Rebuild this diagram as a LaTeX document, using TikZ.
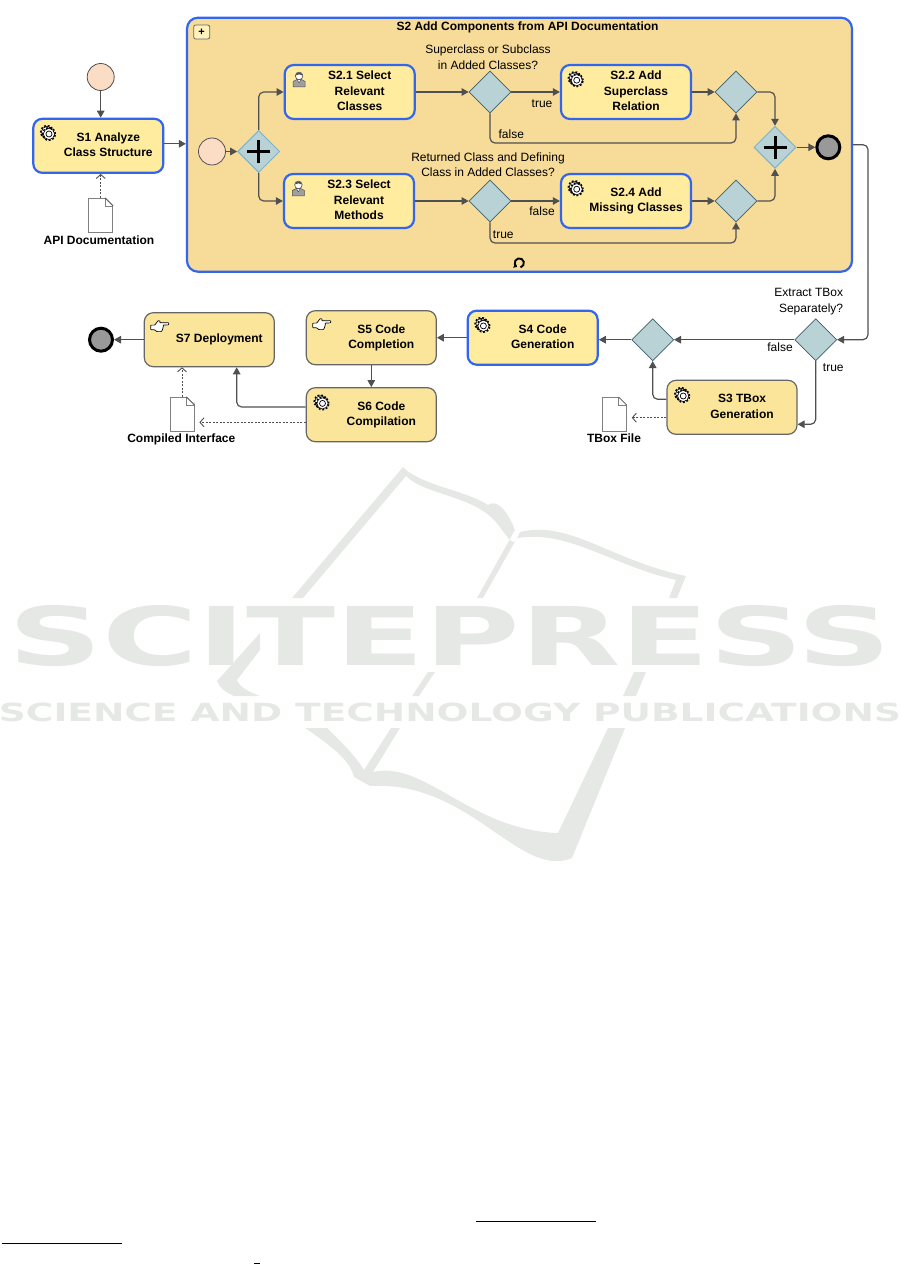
\documentclass[tikz,border=0pt]{standalone}
\usepackage{fontspec}
\setmainfont{Liberation Sans}
\newfontfamily\wmfont{DejaVu Sans}
\usetikzlibrary{arrows.meta,shapes.geometric}

\definecolor{taskfill}{HTML}{FFEC9F}
\definecolor{taskfillb}{HTML}{FBE59B}
\definecolor{subfill}{HTML}{F7DB98}
\definecolor{taskblue}{HTML}{3366EE}
\definecolor{taskgray}{HTML}{666666}
\definecolor{gatefill}{HTML}{B8D2D5}
\definecolor{gateedge}{HTML}{3F5F6A}
\definecolor{plusedge}{HTML}{7FB2C5}
\definecolor{startfill}{HTML}{FBDCC5}
\definecolor{flowgray}{HTML}{505050}
\definecolor{wmgray}{HTML}{E6E8E6}

\newcommand{\tasktext}[1]{\hspace*{20pt}\raisebox{2pt}{\begin{tabular}{@{}c@{}}#1\end{tabular}}}

\tikzset{
  txt/.style={font=\fontsize{12}{15.4}\selectfont, align=center, inner sep=0pt},
  boldtxt/.style={txt, font=\fontsize{12}{15.4}\selectfont\bfseries},
  task/.style={rectangle, rounded corners=9pt, minimum width=130pt, minimum height=54pt, inner sep=0pt,
    font=\fontsize{12}{15.4}\selectfont\bfseries},
  bluetask/.style={task, draw=taskblue, line width=2.2pt, fill=taskfill},
  graytask/.style={task, draw=taskgray, line width=1.2pt, fill=taskfillb},
  gateway/.style={diamond, aspect=1, draw=gateedge, line width=.7pt, fill=gatefill, minimum width=42pt, minimum height=42pt, inner sep=0pt},
  gateplus/.style={gateway, draw=plusedge, line width=1pt, path picture={
    \draw[black, line width=3pt] ([xshift=-11.5pt]path picture bounding box.center) -- ([xshift=11.5pt]path picture bounding box.center);
    \draw[black, line width=3pt] ([yshift=-11.5pt]path picture bounding box.center) -- ([yshift=11.5pt]path picture bounding box.center);}},
  startev/.style={circle, draw=flowgray, line width=.8pt, fill=startfill, minimum size=27pt, inner sep=0pt},
  endev/.style={circle, draw=black, line width=3pt, fill=gray!80, minimum size=23pt, inner sep=0pt},
  docfile/.style={rectangle, draw=gray, line width=.8pt, fill=white, minimum width=24pt, minimum height=34pt, inner sep=0pt},
  flow/.style={draw=flowgray, line width=1.2pt, rounded corners=5pt, -{Triangle[length=7pt,width=7.5pt]}},
  dataflow/.style={draw=flowgray, line width=.9pt, dash pattern=on 2pt off 1.5pt, -{Straight Barb[length=4pt,width=9pt]}},
  gearicon/.pic={
    \draw[black, line width=1.7pt, dash pattern=on 1.8pt off 1.8pt] (-1.2,-1.2) circle (6.2pt);
    \draw[black, fill=white, line width=.6pt] (-1.2,-1.2) circle (5.6pt);
    \draw[black, line width=1.7pt, dash pattern=on 1.8pt off 1.8pt] (.8,.8) circle (6.2pt);
    \draw[black, fill=white, line width=.6pt] (.8,.8) circle (5.6pt);
    \draw[black, fill=white, line width=.7pt] (.8,.8) circle (3pt);
  },
  personicon/.pic={
    \draw[flowgray, fill=gray!75, line width=.5pt] (-6,8) -- (-6,2.5) -- (-2,.5) -- (2,.5) -- (6,2.5) -- (6,8) -- cycle;
    \draw[flowgray, fill=white, line width=.5pt] (-2,.5) -- (0,4) -- (2,.5) -- cycle;
    \draw[flowgray, fill=white, line width=.6pt] (0,-3) circle (3.8pt);
    \fill[flowgray] (-3.4,-3.4) .. controls (-3,-7.4) and (3,-7.4) .. (3.4,-3.4) .. controls (1.5,-5) and (-1.5,-5) .. cycle;
  },
  handicon/.pic={
    \draw[black, fill=white, line width=.7pt, rounded corners=.6pt] (-9,-1.5) -- (-5,-1.5) -- (-1.5,-6) -- (.5,-5.5) -- (0,-3.8) -- (9,-4) -- (9,-1.8) -- (3.5,-1.5) -- (3.5,.8) -- (2.8,3) -- (1.8,5) -- (-3,5) -- (-5,3.2) -- (-9,3.2) -- cycle;
  }
}

\begin{document}
\begin{tikzpicture}[x=1pt,y=-1pt]
\useasboundingbox (0,0) rectangle (901,1265);

\begin{scope}[wmgray]
\fill (403,467) -- (292,598) -- (303,598) -- (406,476) .. controls (425,495) and (470,495) .. (494,520) .. controls (505,532) and (513,550) .. (517,538) -- (483,598) -- (477,598) -- (515,530) .. controls (505,505) and (495,500) .. (488,505) .. controls (465,490) and (420,485) .. (403,467) -- cycle;
\fill (520,532) .. controls (570,520) and (610,560) .. (686,576) -- (677,598) -- (669,598) -- (676,580) .. controls (610,565) and (570,530) .. (517,538) -- cycle;
\fill (260,633) -- (260,650) -- (237,680) .. controls (240,688) and (250,692) .. (260,696) -- (234,696) .. controls (225,692) and (220,688) .. (217,681) -- cycle;
\fill (442,650) -- (448,650) -- (442,662) -- cycle;
\fill (428,672) -- (435,672) -- (419,696) -- (412,696) -- cycle;
\fill (634,672) -- (646,672) -- (636,696) -- (623,696) -- cycle;
\fill (305,728) -- (327,728) .. controls (345,745) and (358,760) .. (364,770) -- (391,728) -- (400,728) -- (373,772) .. controls (425,760) and (470,830) .. (558,833) -- (608,728) -- (625,728) -- (572,858) .. controls (520,880) and (470,780) .. (370,786) -- (354,777) .. controls (350,760) and (330,745) .. (305,728) -- cycle;
\node[font=\wmfont\fontsize{81}{81}\selectfont\bfseries, inner sep=0pt, xscale=1.61] (wm1) at (450,636) {SCITEPRESS};
\node[font=\wmfont\fontsize{25}{25}\selectfont\bfseries, inner sep=0pt, xscale=1.5] (wm2) at (450,712) {SCIENCE AND TECHNOLOGY PUBLICATIONS};
\end{scope}

% sub-process
\node[bluetask, rounded corners=11pt, fill=subfill, minimum width=665pt, minimum height=254pt] (s2) at (519.5,144.7) {};
\node[boldtxt] (s2title) at (527.5,27.7) {S2 Add Components from API Documentation};
\node[draw=taskgray, line width=.8pt, rounded corners=2pt, fill=taskfill!70!white, minimum width=16pt, minimum height=14pt, inner sep=0pt, font=\fontsize{11}{11}\selectfont\bfseries] (s2mark) at (201.7,32) {+};
\draw[black, line width=1.9pt, -{Triangle[length=3pt,width=5pt]}] (520.5,267.4) arc[start angle=-75, end angle=240, radius=4.6pt];

% tasks
\node[bluetask] (s1) at (98.3,145.8) {\tasktext{S1 Analyze\\Class Structure}};
\node[bluetask] (s21) at (349.7,92) {\tasktext{S2.1 Select\\Relevant\\Classes}};
\node[bluetask] (s23) at (349,201) {\tasktext{S2.3 Select\\Relevant\\Methods}};
\node[bluetask] (s22) at (626,92) {\tasktext{S2.2 Add\\Superclass\\Relation}};
\node[bluetask] (s24) at (626,201) {\tasktext{S2.4 Add\\Missing Classes}};
\node[bluetask] (s4) at (532.7,337.7) {\tasktext{S4 Code\\Generation}};
\node[graytask] (s3) at (732,407.3) {\tasktext{S3 TBox\\Generation}};
\node[graytask] (s5) at (371.3,337.7) {\tasktext{S5 Code\\Completion}};
\node[graytask] (s6) at (371.3,414.7) {\tasktext{S6 Code\\Compilation}};
\node[graytask] (s7) at (209.3,339.7) {\tasktext{S7 Deployment}};

\foreach \t in {s1,s22,s24,s4,s3,s6} \pic at ([shift={(16,15.5)}]\t.north west) {gearicon};
\foreach \t in {s21,s23} \pic at ([shift={(15.5,15)}]\t.north west) {personicon};
\foreach \t in {s5,s7} \pic at ([shift={(16,14.5)}]\t.north west) {handicon};

% events and gateways
\node[startev] (start1) at (100.7,77) {};
\node[startev] (start2) at (212,151.5) {};
\node[endev] (end1) at (828.3,147.3) {};
\node[endev] (end2) at (101,339.7) {};
\node[gateplus] (g1) at (258.7,151.5) {};
\node[gateway] (g2) at (490,92) {};
\node[gateway] (g3) at (736,92) {};
\node[gateway] (g4) at (490,201) {};
\node[gateway] (g5) at (736,201) {};
\node[gateplus] (g6) at (775,147.3) {};
\node[gateway] (g7) at (815.7,339.7) {};
\node[gateway] (g8) at (652.7,339.7) {};

% documents
\node[docfile] (doc1) at (100.7,215.3) {};
\node[docfile] (doc2) at (182,414.3) {};
\node[docfile] (doc3) at (614.3,414.5) {};
\foreach \d in {doc1,doc2,doc3} {
  \fill[white] ([xshift=-8pt]\d.north east) -- ([shift={(1,-1)}]\d.north east) -- ([yshift=-8pt]\d.north east) -- cycle;
  \draw[gray, line width=.7pt] ([xshift=-8pt]\d.north east) -- ++(0,8) -- ++(8,0);
  \draw[flowgray, line width=.8pt] ([xshift=-8pt]\d.north east) -- ([yshift=-8pt]\d.north east);
}
\node[boldtxt] (doc1txt) at (99,240) {API Documentation};
\node[boldtxt] (doc2txt) at (181.3,439) {Compiled Interface};
\node[boldtxt] (doc3txt) at (614,438.7) {TBox File};

% labels
\node[txt] (q1) at (488,57.4) {Superclass or Subclass\\in Added Classes?};
\node[txt] (q2) at (488,165) {Returned Class and Defining\\Class in Added Classes?};
\node[txt, align=right, anchor=east] (q3) at (843.3,301.7) {Extract TBox\\Separately?};
\node[txt] (l1) at (542,103.7) {true};
\node[txt] (l2) at (511.3,134.3) {false};
\node[txt] (l3) at (542,211.3) {false};
\node[txt] (l4) at (503.3,234.3) {true};
\node[txt] (l5) at (780,347.7) {false};
\node[txt] (l6) at (833.3,367.7) {true};

\coordinate (bendr) at (868,240);

\draw[flow] (start1.south) -- (start1.south |- s1.north);
\draw[flow] ([yshift=2pt]s1.east) -- ([yshift=2pt]s1.east -| s2.west);
\draw[flow] (start2.east) -- (g1.west);
\draw[flow] (g1.north) |- (s21.west);
\draw[flow] (g1.south) |- (s23.west);
\draw[flow] (s21.east) -- (g2.west);
\draw[flow] (s23.east) -- (g4.west);
\draw[flow] (g2.east) -- (s22.west);
\draw[flow] (g4.east) -- (s24.west);
\draw[flow] (s22.east) -- (g3.west);
\draw[flow] (s24.east) -- (g5.west);
\draw[flow] (g2.south) -- ++(0,29.7) -| (g3.south);
\draw[flow] (g4.south) -- ++(0,20.7) -| (g5.south);
\draw[flow] (g3.east) -| (g6.north);
\draw[flow] (g5.east) -| (g6.south);
\draw[flow] (g6.east) -- (end1.west);
\draw[flow] (s2.east) -| (bendr) |- (g7.east);
\draw[flow] (g7.west) -- (g8.east);
\draw[flow] (g7.south) |- ([yshift=-17pt]s3.east);
\draw[flow] ([yshift=8pt]s3.west) -| (g8.south);
\draw[flow] (g8.west) -- (g8.west -| s4.east);
\draw[flow] (s4.west) -- (s5.east);
\draw[flow] (s5.south) -- (s6.north);
\draw[flow] ([yshift=7.7pt]s6.west) -| ([xshift=27.4pt]s7.south);
\draw[flow] (s7.west) -- (end2.east);
\draw[dataflow] (doc1.north) -- (doc1.north |- s1.south);
\draw[dataflow] (doc2.north) -- (doc2.north |- s7.south);
\draw[dataflow, shorten >=5pt] ([yshift=-7.6pt]s6.west) -- ([yshift=-8pt]doc2.east);
\draw[dataflow, shorten >=5pt] ([yshift=-10.4pt]s3.west) -- ([yshift=-3.2pt]doc3.east);

\draw[black, line width=1pt] (2,1243) -- (122,1243);
\draw[black, line width=1pt] (476,1221) -- (596,1221);
\draw[black, line width=1pt] (254,1263) -- (260,1263);
\end{tikzpicture}
\end{document}
